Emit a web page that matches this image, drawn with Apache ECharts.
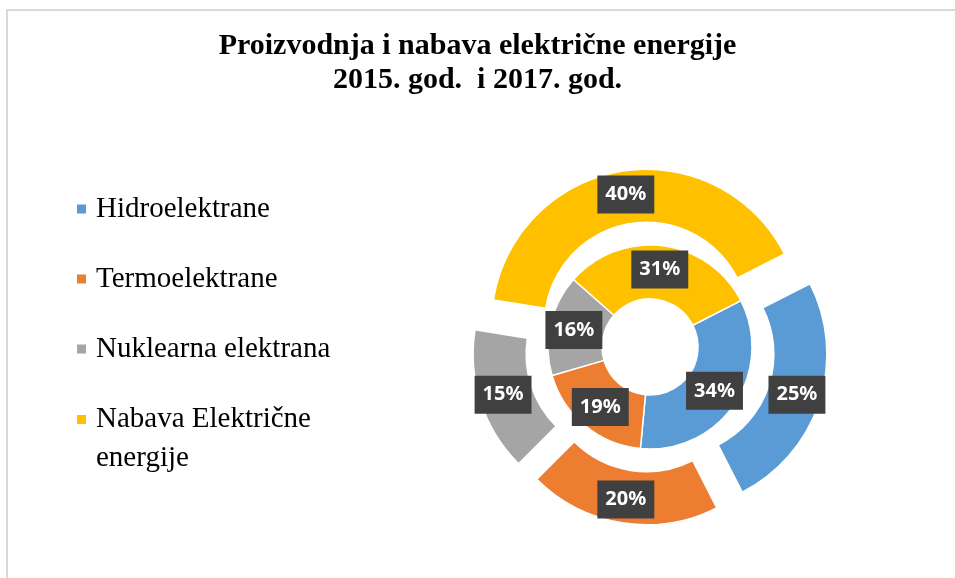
<!DOCTYPE html>
<html>
<head>
<meta charset="utf-8">
<script src="https://cdn.jsdelivr.net/npm/echarts@6/dist/echarts.min.js"></script>
<style>
  html, body { margin: 0; padding: 0; background: #fff; }
  #chart { width: 955px; height: 578px; }
</style>
</head>
<body>
<div id="chart"></div>
<script>
// categories and shares (%)
var categories = ['Hidroelektrane', 'Termoelektrane', 'Nuklearna elektrana', 'Nabava Električne energije'];
var share2015 = [34, 19, 16, 31];   // inner ring
var share2017 = [25, 20, 15, 40];   // outer ring
var colors = ['#5B9BD5', '#ED7D31', '#A5A5A5', '#FFC000'];

var chart = echarts.init(document.getElementById('chart'));

function ringData(values, exploded) {
    return categories.map(function (name, i) {
        return { name: name, value: values[i], selected: exploded };
    });
}

var labelStyle = {
    show: true,
    position: 'inside',
    formatter: '{c}%',
    color: '#fff',
    fontFamily: 'Noto Sans',
    fontWeight: 'bold',
    fontSize: 20,
    lineHeight: 20,
    backgroundColor: '#404040',
    padding: [9, 8, 9, 8]
};

var legendText = {
    fontFamily: 'Liberation Serif',
    fontSize: 29,
    color: '#000',
    padding: [0, 0, 0, 4]
};

var option = {
    color: colors,
    animation: false,
    title: {
        text: 'Proizvodnja i nabava električne energije\n2015. god.  i 2017. god.',
        left: 'center',
        top: 29,
        padding: [0, 0, 0, 21],
        textStyle: {
            fontFamily: 'Liberation Serif',
            fontWeight: 'bold',
            fontSize: 30,
            lineHeight: 34,
            color: '#000'
        }
    },
    legend: [{
        data: categories.slice(0, 3),
        orient: 'vertical',
        left: 75,
        top: 194,
        padding: 0,
        icon: 'rect',
        itemWidth: 11,
        itemHeight: 11,
        itemGap: 40,
        textStyle: Object.assign({ lineHeight: 30 }, legendText)
    }, {
        data: categories.slice(3),
        orient: 'vertical',
        left: 75,
        top: 361,
        padding: 0,
        icon: 'rect',
        itemWidth: 11,
        itemHeight: 11,
        // blank first line keeps the marker level with "Nabava Električne"
        formatter: function () {
            return ' \nNabava Električne\nenergije';
        },
        textStyle: Object.assign({ lineHeight: 39 }, legendText)
    }],
    graphic: [{
        type: 'rect',
        silent: true,
        shape: { x: 7, y: 10, width: 1200, height: 1000 },
        style: { fill: 'none', stroke: '#d9d9d9', lineWidth: 2 }
    }],
    series: [{
        name: '2015',
        type: 'pie',
        center: [650, 347],
        radius: [48, 102],
        startAngle: 27,
        clockwise: true,
        avoidLabelOverlap: false,
        itemStyle: { borderColor: '#fff', borderWidth: 1.5 },
        label: labelStyle,
        labelLine: { show: false },
        emphasis: { disabled: true },
        data: ringData(share2015, false)
    }, {
        name: '2017',
        type: 'pie',
        center: [650, 347],
        radius: [102, 155],
        startAngle: 27,
        clockwise: true,
        avoidLabelOverlap: false,
        selectedMode: 'multiple',
        selectedOffset: 23,
        itemStyle: { borderColor: '#fff', borderWidth: 1.5 },
        label: labelStyle,
        labelLine: { show: false },
        emphasis: { disabled: true },
        data: ringData(share2017, true)
    }]
};

chart.setOption(option);
</script>
</body>
</html>
